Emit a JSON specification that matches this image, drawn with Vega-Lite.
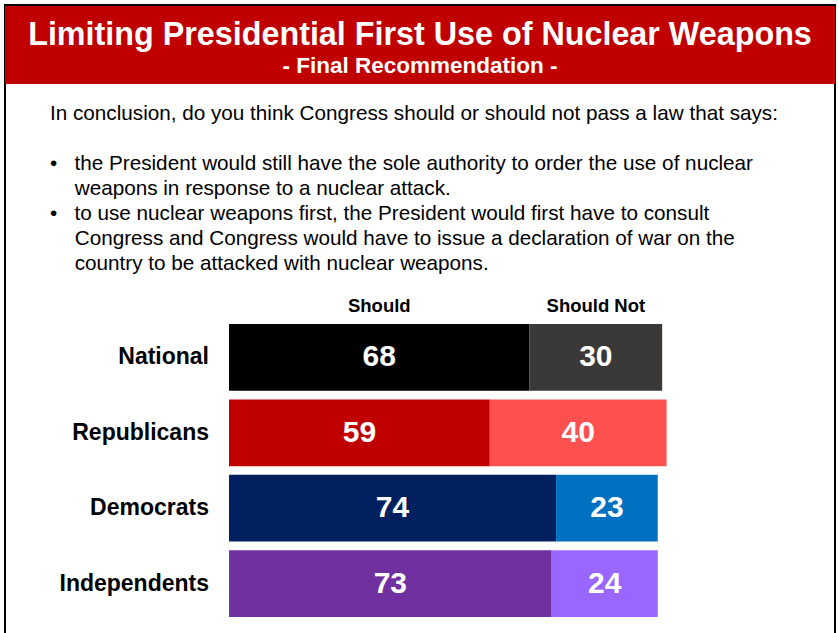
{
  "$schema": "https://vega.github.io/schema/vega-lite/v6.json",
  "autosize": {"type": "none"},
  "padding": {"left": 5, "top": 5, "right": 3, "bottom": 0},
  "width": 830,
  "height": 640,
  "background": "white",
  "view": {"stroke": "#000000", "strokeWidth": 2, "fill": "white"},
  "config": {"font": "Liberation Sans"},
  "title": {
    "text": [
      "In conclusion, do you think Congress should or should not pass a law that says:",
      "\u200b",
      "•\u00a0\u00a0\u00a0the President would still have the sole authority to order the use of nuclear",
      "\u200b\u00a0\u00a0\u00a0\u00a0\u200aweapons in response to a nuclear attack.",
      "•\u00a0\u00a0\u00a0to use nuclear weapons first, the President would first have to consult",
      "\u200b\u00a0\u00a0\u00a0\u00a0\u200aCongress and Congress would have to issue a declaration of war on the",
      "\u200b\u00a0\u00a0\u00a0\u00a0\u200acountry to be attacked with nuclear weapons."
    ],
    "anchor": "start",
    "frame": "group",
    "dx": 45,
    "offset": -270,
    "fontSize": 20.7,
    "fontWeight": "normal",
    "color": "#000000",
    "lineHeight": 25.1,
    "font": "Liberation Sans",
    "zindex": 1
  },
  "datasets": {
    "header": [
      {"part": "header", "title": "Limiting Presidential First Use of Nuclear Weapons", "subtitle": "- Final Recommendation -"}
    ],
    "survey": [
      {"group": "National", "response": "Should", "value": 68},
      {"group": "National", "response": "Should Not", "value": 30},
      {"group": "Republicans", "response": "Should", "value": 59},
      {"group": "Republicans", "response": "Should Not", "value": 40},
      {"group": "Democrats", "response": "Should", "value": 74},
      {"group": "Democrats", "response": "Should Not", "value": 23},
      {"group": "Independents", "response": "Should", "value": 73},
      {"group": "Independents", "response": "Should Not", "value": 24}
    ]
  },
  "layer": [
    {
      "data": {"name": "header"},
      "encoding": {
        "y": {"field": "part", "type": "nominal", "scale": {"range": [1, 79], "paddingInner": 0, "paddingOuter": 0}, "axis": null}
      },
      "layer": [
        {"mark": {"type": "rect", "color": "#C00000"}},
        {"mark": {"type": "text", "color": "white", "fontSize": 32.3, "fontWeight": "bold", "baseline": "middle", "dy": -10}, "encoding": {"text": {"field": "title"}}},
        {"mark": {"type": "text", "color": "white", "fontSize": 22.5, "fontWeight": "bold", "baseline": "middle", "dy": 21}, "encoding": {"text": {"field": "subtitle"}}}
      ]
    },
    {
      "data": {"name": "survey"},
      "transform": [
        {"stack": "value", "groupby": ["group"], "sort": [{"field": "response", "order": "ascending"}], "as": ["x0", "x1"]}
      ],
      "encoding": {
        "y": {"field": "group", "type": "nominal", "sort": ["National", "Republicans", "Democrats", "Independents"], "scale": {"range": [319, 612], "paddingInner": 0.115, "paddingOuter": 0}, "axis": null}
      },
      "layer": [
        {
          "transform": [{"filter": "datum.response === 'Should'"}],
          "mark": "bar",
          "encoding": {
            "x": {"field": "x0", "type": "quantitative", "scale": {"domain": [-50.68, 137.1], "nice": false, "zero": false}, "axis": null},
            "x2": {"field": "x1"},
            "color": {"field": "group", "type": "nominal", "scale": {"domain": ["National", "Republicans", "Democrats", "Independents"], "range": ["#000000", "#C00000", "#002060", "#7030A0"]}, "legend": null}
          }
        },
        {
          "transform": [{"filter": "datum.response === 'Should Not'"}],
          "mark": "bar",
          "encoding": {
            "x": {"field": "x0", "type": "quantitative"},
            "x2": {"field": "x1"},
            "color": {"field": "group", "type": "nominal", "scale": {"domain": ["National", "Republicans", "Democrats", "Independents"], "range": ["#3B3838", "#FF5050", "#0070C0", "#9966FF"]}, "legend": null}
          }
        },
        {
          "mark": {"type": "text", "color": "white", "fontSize": 30, "fontWeight": "bold", "baseline": "middle"},
          "encoding": {
            "x": {"field": "value", "type": "quantitative", "stack": "zero", "bandPosition": 0.5},
            "detail": {"field": "response"},
            "order": {"field": "response", "sort": "ascending"},
            "text": {"field": "value", "type": "quantitative"}
          }
        },
        {
          "transform": [{"filter": "datum.group === 'National'"}],
          "mark": {"type": "text", "color": "black", "fontSize": 18.5, "fontWeight": "bold", "baseline": "middle", "dy": -51},
          "encoding": {
            "x": {"field": "value", "type": "quantitative", "stack": "zero", "bandPosition": 0.5},
            "detail": {"field": "response"},
            "order": {"field": "response", "sort": "ascending"},
            "text": {"field": "response", "type": "nominal"}
          }
        },
        {
          "transform": [{"filter": "datum.response === 'Should'"}],
          "mark": {"type": "text", "color": "black", "fontSize": 23, "fontWeight": "bold", "baseline": "middle", "align": "right", "dx": -20},
          "encoding": {
            "x": {"datum": 0, "type": "quantitative"},
            "text": {"field": "group", "type": "nominal"}
          }
        }
      ],
      "resolve": {"scale": {"color": "independent"}}
    }
  ],
  "resolve": {"scale": {"y": "independent"}}
}
